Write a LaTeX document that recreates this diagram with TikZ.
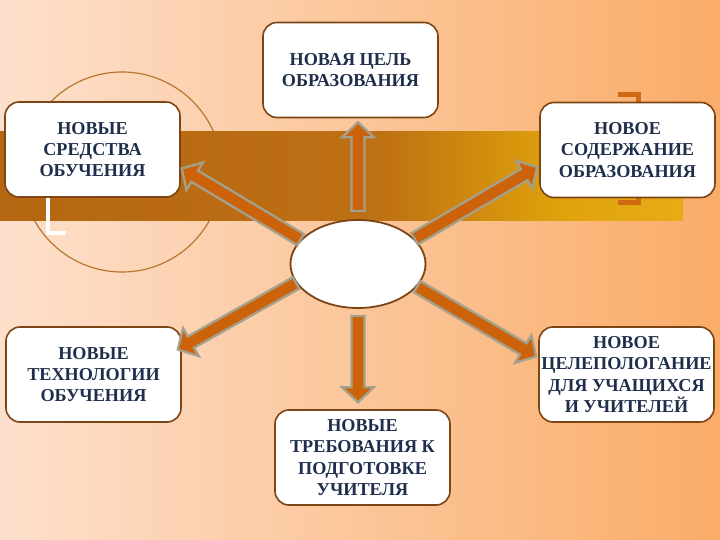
\documentclass[tikz,border=0pt]{standalone}
\usepackage{fontspec}
\setmainfont{Liberation Serif}
\usetikzlibrary{calc,backgrounds,shapes.geometric}
\definecolor{bgLeft}{HTML}{FDE0CC}
\definecolor{bgRight}{HTML}{FAAC68}
\definecolor{bandBrown}{HTML}{B56612}
\definecolor{bandMid}{HTML}{BE7014}
\definecolor{bandGold}{HTML}{E0A20C}
\definecolor{bandEnd}{HTML}{E6AC16}
\definecolor{ringline}{HTML}{B8762E}
\definecolor{boxline}{HTML}{7B4516}
\definecolor{inktext}{HTML}{1F2E4C}
\definecolor{arrowfill}{HTML}{CC6209}
\definecolor{arrowedge}{HTML}{A3A08C}
\definecolor{bracketline}{HTML}{CF6A12}

\newcommand{\blockarrow}[2]{%
 \filldraw[arrowbody] let \p1=(#1), \p2=(#2),
  \n1={atan2(\y2-\y1,\x2-\x1)}, \n2={veclen(\x2-\x1,\y2-\y1)} in
  [shift={(\p1)}, rotate=\n1]
  (0,-6.5) -- ({\n2-15},-6.5) -- ({\n2-15},-16) -- (\n2,0) -- ({\n2-15},16) -- ({\n2-15},6.5) -- (0,6.5) -- cycle;
}

\begin{document}
\begin{tikzpicture}[x=1pt, y=-1pt,
 box/.style={draw=boxline, line width=1.6pt, fill=white, rounded corners=14pt,
  minimum width=175pt, minimum height=95pt, inner sep=0pt, align=center,
  text=inktext, font=\bfseries\fontsize{18.2}{21.2}\selectfont},
 arrowbody/.style={fill=arrowfill, draw=arrowedge, line width=2.3pt, line join=miter}]
\useasboundingbox (0,0) rectangle (720,540);
% centre and the six boxes
\node[ellipse, draw=boxline, line width=1.8pt, fill=white, minimum width=135pt,
 minimum height=88pt, inner sep=0pt] (hub) at (358,264) {};
\node[box] (goal) at (350.5,70) {НОВАЯ ЦЕЛЬ\\ОБРАЗОВАНИЯ};
\node[box] (means) at (92.5,149.5) {НОВЫЕ\\СРЕДСТВА\\ОБУЧЕНИЯ};
\node[box] (content) at (627.5,150) {НОВОЕ\\СОДЕРЖАНИЕ\\ОБРАЗОВАНИЯ};
\node[box] (tech) at (93.5,374.5) {НОВЫЕ\\ТЕХНОЛОГИИ\\ОБУЧЕНИЯ};
\node[box] (goals) at (626.5,374.5) {НОВОЕ\\ЦЕЛЕПОЛОГАНИЕ\\ДЛЯ УЧАЩИХСЯ\\И УЧИТЕЛЕЙ};
\node[box] (teacher) at (362.5,457.5) {НОВЫЕ\\ТРЕБОВАНИЯ К\\ПОДГОТОВКЕ\\УЧИТЕЛЯ};
% backdrop
\begin{scope}[on background layer]
 \shade[left color=bgLeft, right color=bgRight] (0,0) rectangle (720,540);
 \draw[ringline, line width=1.2pt] (122,172) circle[radius=100];
 \shade[left color=bandBrown, right color=bandMid] (0,132) rectangle (380.5,221);
 \shade[left color=bandMid, right color=bandGold] (380,132) rectangle (560.5,221);
 \shade[left color=bandGold, right color=bandEnd] (560,132) rectangle (683,221);
 \draw[white, line width=3.5pt] (48,110) -- (48,233) -- (66,233);
 \draw[bracketline, line width=5pt] (618,95) -- (638,95) -- (638,203) -- (618,203);
\end{scope}
% arrows
\blockarrow{$(hub.north)+(0,-8)$}{$(hub.north |- goal.south)+(0,4)$}
\blockarrow{$(hub.south)+(0,7)$}{$(hub.south |- teacher.north)+(0,-7)$}
\foreach \s/\t/\dx/\dy in {157/means.east/1/19, 24/content.west/-2/17,
 197/tech.east/-4/-25, -21/goals.west/-2/-18} {
 \blockarrow{hub.\s}{$(\t)+(\dx,\dy)$}
}
\end{tikzpicture}
\end{document}
